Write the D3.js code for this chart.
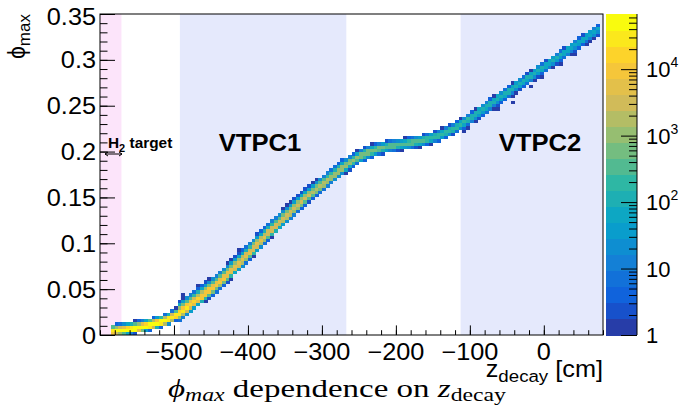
<!DOCTYPE html>
<html><head><meta charset="utf-8">
<script src="https://cdn.jsdelivr.net/npm/d3@7"></script>
<style>body{margin:0;background:#fff}svg{display:block}</style>
</head><body>
<svg id="chart" width="679" height="407"></svg>
<script>
// ---------------- data ----------------
const xDomain = [-600, 80];
const yDomain = [0, 0.35];
const zLogMax = 4.83;            // colour axis top = 10^4.83
const nLevels = 20;
const firstBinZ = -585, binWidthZ = 5, binWidthPhi = 0.0035;

// centre of the phi_max band for every 5 cm z bin (from -585 to 75)
const phiCenter = [
0.0040,0.0045,0.0050,0.0055,0.0061,0.0066,0.0071,0.0079,0.0088,0.0097,
0.0106,0.0116,0.0128,0.0141,0.0154,0.0170,0.0190,0.0212,0.0237,0.0270,
0.0301,0.0332,0.0363,0.0394,0.0425,0.0456,0.0487,0.0518,0.0549,0.0584,
0.0623,0.0662,0.0701,0.0740,0.0780,0.0820,0.0860,0.0902,0.0945,0.0988,
0.1030,0.1070,0.1110,0.1150,0.1190,0.1229,0.1266,0.1304,0.1341,0.1379,
0.1416,0.1454,0.1491,0.1526,0.1558,0.1590,0.1622,0.1654,0.1687,0.1720,
0.1753,0.1787,0.1820,0.1853,0.1881,0.1909,0.1937,0.1957,0.1976,0.1993,
0.2009,0.2022,0.2032,0.2042,0.2053,0.2063,0.2069,0.2075,0.2080,0.2086,
0.2092,0.2100,0.2108,0.2117,0.2125,0.2137,0.2149,0.2161,0.2174,0.2190,
0.2210,0.2230,0.2250,0.2268,0.2297,0.2326,0.2355,0.2384,0.2412,0.2440,
0.2468,0.2496,0.2524,0.2552,0.2580,0.2608,0.2636,0.2664,0.2692,0.2720,
0.2748,0.2776,0.2804,0.2832,0.2860,0.2888,0.2916,0.2944,0.2972,0.3000,
0.3028,0.3056,0.3084,0.3112,0.3140,0.3168,0.3196,0.3224,0.3252,0.3280,
0.3308,0.3336];

// log10 of the peak cell content in every z bin
const logPeak = [
4.50,4.70,4.75,4.75,4.75,4.75,4.75,4.75,4.75,4.75,
4.72,4.70,4.68,4.65,4.62,4.58,4.54,4.50,4.45,4.40,
4.35,4.30,4.25,4.20,4.15,4.10,4.07,4.04,4.01,3.98,
3.95,3.92,3.89,3.86,3.83,3.80,3.78,3.76,3.74,3.72,
3.70,3.68,3.66,3.64,3.62,3.60,3.58,3.56,3.54,3.52,
3.50,3.47,3.44,3.41,3.38,3.35,3.31,3.27,3.23,3.19,
3.15,3.11,3.07,3.03,2.99,2.95,2.91,2.87,2.83,2.79,
2.75,2.72,2.69,2.66,2.63,2.61,2.59,2.57,2.55,2.53,
2.51,2.49,2.47,2.46,2.44,2.43,2.41,2.40,2.38,2.37,
2.35,2.33,2.31,2.29,2.27,2.25,2.23,2.21,2.19,2.17,
2.15,2.14,2.13,2.12,2.11,2.10,2.09,2.08,2.07,2.06,
2.05,2.04,2.03,2.02,2.01,2.00,1.99,1.98,1.97,1.96,
1.95,1.94,1.93,1.92,1.91,1.90,1.89,1.88,1.86,1.84,
1.80,1.70];

// band shape per detector region (decades lost per unit of phi above / below the band centre)
const regionEdgesZ = [-600, -495, -270, -110, 80];
const rateUp   = [700, 380, 480, 600];
const rateDown = [1200, 600, 480, 320];
const coreHalfWidth = 0.0018;

// isolated single-count cells [z, phi]
const outliers = [
[-487,0.0436],[-466,0.0545],[-455,0.0618],[-414,0.0934],[-360,0.1319],[-309,0.1654],
[-245,0.2053],[-212,0.2126],[-212,0.2010],[-106,0.2217],[-104,0.2254],[-65,0.2472],
[-45,0.2544],[-16,0.2726],[-2,0.2835],[22,0.2963],[40,0.3070],[58,0.3180]];

// shaded detector regions [zmin, zmax]
const targetBand = [-600, -571];
const vtpc1Band = [-492, -267];
const vtpc2Band = [-112.5, 80];

const xTickValues = [-500, -400, -300, -200, -100, 0];
const yTickValues = [0, 0.05, 0.1, 0.15, 0.2, 0.25, 0.3, 0.35];
const yTickLabels = ["0", "0.05", "0.1", "0.15", "0.2", "0.25", "0.3", "0.35"];
const zTickValues = [1, 10, 100, 1000, 10000];
const zTickBase = ["1", "10", "10", "10", "10"];
const zTickExp = ["", "", "2", "3", "4"];

// ROOT kBird palette
const birdStops = [0.0000, 0.1250, 0.2500, 0.3750, 0.5000, 0.6250, 0.7500, 0.8750, 1.0000];
const birdR = [0.2082, 0.0592, 0.0780, 0.0232, 0.1802, 0.5301, 0.8186, 0.9956, 0.9764];
const birdG = [0.1664, 0.3599, 0.5041, 0.6419, 0.7178, 0.7492, 0.7328, 0.7862, 0.9832];
const birdB = [0.5293, 0.8684, 0.8385, 0.7914, 0.6425, 0.4662, 0.3499, 0.1968, 0.0539];

// ---------------- drawing ----------------
const svg = d3.select("#chart");
const frame = {l: 100, t: 14, r: 603, b: 335};
const pal = {l: 606, r: 637};
const x = d3.scaleLinear().domain(xDomain).range([frame.l, frame.r]);
const y = d3.scaleLinear().domain(yDomain).range([frame.b, frame.t]);
const zs = d3.scaleLog().domain([1, Math.pow(10, zLogMax)]).range([frame.b, frame.t]);

const rC = d3.scaleLinear().domain(birdStops).range(birdR);
const gC = d3.scaleLinear().domain(birdStops).range(birdG);
const bC = d3.scaleLinear().domain(birdStops).range(birdB);
function bird(f) { return d3.rgb(rC(f) * 255, gC(f) * 255, bC(f) * 255).toString(); }
function levelColor(i) {
  const idx = Math.floor((i + 0.99) * 255 / nLevels);
  return bird(Math.min(idx, 254) / 254);
}
function levelOf(count) {
  const lv = Math.floor(Math.log10(count) / (zLogMax / nLevels));
  return Math.max(0, Math.min(nLevels - 1, lv));
}

svg.append("defs").append("clipPath").attr("id", "clipFrame")
  .append("rect").attr("x", frame.l).attr("y", frame.t)
  .attr("width", frame.r - frame.l).attr("height", frame.b - frame.t);

const plot = svg.append("g").attr("clip-path", "url(#clipFrame)");
function band(r, col) {
  plot.append("rect").attr("x", x(r[0])).attr("y", frame.t)
    .attr("width", x(r[1]) - x(r[0])).attr("height", frame.b - frame.t).attr("fill", col);
}
band(targetBand, "#fce4fa");
band(vtpc1Band, "#e5e9fc");
band(vtpc2Band, "#e5e9fc");

// build cells
function regionOf(z) {
  for (let k = 0; k < regionEdgesZ.length - 1; k++) if (z < regionEdgesZ[k + 1]) return k;
  return regionEdgesZ.length - 2;
}
const cellMap = new Map();
const n = phiCenter.length;
phiCenter.forEach((pc, i) => {
  const prev = i > 0 ? phiCenter[i - 1] : 2 * pc - phiCenter[i + 1];
  const next = i < n - 1 ? phiCenter[i + 1] : 2 * pc - phiCenter[i - 1];
  const pL = (prev + pc) / 2, pR = (pc + next) / 2;
  const z0 = firstBinZ + i * binWidthZ;
  const reg = regionOf(z0 + binWidthZ / 2);
  const rMin = Math.max(0, Math.floor((Math.min(pL, pR) - 0.02) / binWidthPhi));
  const rMax = Math.ceil((Math.max(pL, pR) + 0.02) / binWidthPhi);
  for (let r = rMin; r <= rMax; r++) {
    const rowC = (r + 0.5) * binWidthPhi;
    let sum = 0;
    const S = 10;
    for (let s = 0; s < S; s++) {
      const ps = pL + (pR - pL) * (s + 0.5) / S;
      const d = rowC - ps;
      const ad = Math.max(0, Math.abs(d) - coreHalfWidth);
      const lg = logPeak[i] - (d > 0 ? ad * rateUp[reg] : ad * rateDown[reg]);
      sum += Math.pow(10, lg);
    }
    const cnt = sum / S;
    if (cnt >= 1) cellMap.set(i + "," + r, {i, r, cnt});
  }
});
outliers.forEach(([z, p]) => {
  const i = Math.floor((z - firstBinZ) / binWidthZ);
  const r = Math.floor(p / binWidthPhi);
  const key = i + "," + r;
  if (!cellMap.has(key)) cellMap.set(key, {i, r, cnt: 1});
});
const cells = Array.from(cellMap.values());
plot.append("g").attr("shape-rendering", "crispEdges")
  .selectAll("rect").data(cells).join("rect")
  .attr("x", d => x(firstBinZ + d.i * binWidthZ))
  .attr("width", d => x(firstBinZ + (d.i + 1) * binWidthZ) - x(firstBinZ + d.i * binWidthZ) + 0.3)
  .attr("y", d => y((d.r + 1) * binWidthPhi))
  .attr("height", d => y(d.r * binWidthPhi) - y((d.r + 1) * binWidthPhi) + 0.3)
  .attr("fill", d => levelColor(levelOf(d.cnt)));

// frame
svg.append("rect").attr("x", frame.l).attr("y", frame.t)
  .attr("width", frame.r - frame.l).attr("height", frame.b - frame.t)
  .attr("fill", "none").attr("stroke", "#000").attr("stroke-width", 1);

// axes (ticks inside the frame)
function ticksOnly(g) { g.select(".domain").remove(); g.selectAll("text").remove(); g.selectAll("line").attr("stroke", "#000"); }
svg.append("g").attr("transform", `translate(0,${frame.b})`)
  .call(d3.axisBottom(x).tickValues(d3.range(-600, 81, 20)).tickSize(-4.8).tickFormat(""))
  .call(ticksOnly);
svg.append("g").attr("transform", `translate(0,${frame.b})`)
  .call(d3.axisBottom(x).tickValues(xTickValues).tickSize(-9.6).tickFormat(""))
  .call(ticksOnly);
svg.append("g").attr("transform", `translate(${frame.l},0)`)
  .call(d3.axisLeft(y).tickValues(d3.range(0, 36).map(k => k / 100)).tickSize(-7.5).tickFormat(""))
  .call(ticksOnly);
svg.append("g").attr("transform", `translate(${frame.l},0)`)
  .call(d3.axisLeft(y).tickValues(yTickValues).tickSize(-15).tickFormat(""))
  .call(ticksOnly);

const SX = 1.1;
function stretched(px, py, anchor, opts) {
  const g = svg.append("g").attr("transform", `translate(${px},${py}) scale(${opts.sx || SX},1)`);
  return g.append("text").attr("text-anchor", anchor)
    .attr("font-family", opts.family || "'Liberation Sans', Arial, sans-serif")
    .attr("font-size", opts.size || 23).attr("font-weight", opts.weight || "normal")
    .attr("fill", "#000");
}
// tick labels
xTickValues.forEach(v => {
  stretched(x(v), 360, "middle", {}).text(v < 0 ? "\u2212" + Math.abs(v) : String(v));
});
yTickValues.forEach((v, k) => {
  stretched(96, y(v) + 8.5 + (k === yTickValues.length - 1 ? 2 : 0), "end", {}).text(yTickLabels[k]);
});

// palette
const palG = svg.append("g").attr("shape-rendering", "crispEdges");
d3.range(nLevels).forEach(i => {
  const lo = zs(Math.pow(10, i * zLogMax / nLevels));
  const hi = zs(Math.pow(10, (i + 1) * zLogMax / nLevels));
  palG.append("rect").attr("x", pal.l).attr("y", hi).attr("width", pal.r - pal.l)
    .attr("height", lo - hi + 0.5).attr("fill", levelColor(i));
});
const minorZ = [];
for (let e = 0; e < 5; e++) for (let m = 2; m <= 9; m++) { const v = m * Math.pow(10, e); if (v < Math.pow(10, zLogMax)) minorZ.push(v); }
svg.append("g").attr("transform", `translate(${pal.r},0)`)
  .call(d3.axisRight(zs).tickValues(minorZ).tickSize(-8).tickFormat(""))
  .call(ticksOnly);
svg.append("g").attr("transform", `translate(${pal.r},0)`)
  .call(d3.axisRight(zs).tickValues(zTickValues).tickSize(-16).tickFormat(""))
  .call(ticksOnly);
svg.append("line").attr("x1", pal.r).attr("x2", pal.r).attr("y1", frame.t).attr("y2", frame.b)
  .attr("stroke", "#000");
zTickValues.forEach((v, k) => {
  const t = stretched(646, zs(v) + 8, "start", {size: 22, sx: 1.0});
  t.append("tspan").text(zTickBase[k]);
  if (zTickExp[k]) t.append("tspan").attr("font-size", 14).attr("dy", -10).text(zTickExp[k]);
});

// axis titles
{
  const g = svg.append("g").attr("transform", `translate(25,${frame.t}) rotate(-90)`);
  const t = g.append("text").attr("text-anchor", "end")
    .attr("font-family", "'Liberation Sans', Arial, sans-serif").attr("font-size", 23);
  t.append("tspan").text("\u03D5");
  t.append("tspan").attr("font-size", 17).attr("dy", 5).text("max");
}
{
  const t = stretched(frame.r, 377, "end", {});
  t.append("tspan").text("z");
  t.append("tspan").attr("font-size", 17).attr("dy", 5).text("decay");
  t.append("tspan").attr("dy", -5).text(" [cm]");
}
// caption (stretched to its width in the picture)
{
  const capLeft = 168, capWidth = 338;
  const g = svg.append("g");
  const t = g.append("text").attr("text-anchor", "start")
    .attr("font-family", "'Liberation Serif', 'Times New Roman', serif").attr("font-size", 25).attr("fill", "#000");
  t.append("tspan").attr("font-style", "italic").text("\u03D5");
  t.append("tspan").attr("font-style", "italic").attr("font-size", 18).attr("dy", 4).text("max");
  t.append("tspan").attr("dy", -4).text(" dependence on ");
  t.append("tspan").attr("font-style", "italic").text("z");
  t.append("tspan").attr("font-size", 18).attr("dy", 4).text("decay");
  const w = t.node().getComputedTextLength();
  g.attr("transform", `translate(${capLeft},397) scale(${capWidth / w},1)`);
}
// detector labels
stretched(260, 151, "middle", {size: 24, weight: "bold", sx: 1.07}).text("VTPC1");
stretched(540, 151, "middle", {size: 24, weight: "bold", sx: 1.07}).text("VTPC2");
{
  const t = stretched(108, 148, "start", {size: 14, weight: "bold"});
  t.append("tspan").text("H");
  t.append("tspan").attr("font-size", 10).attr("dy", 4).text("2");
  t.append("tspan").attr("dy", -4).text(" target");
  const ay = 154;
  svg.append("line").attr("x1", 105).attr("x2", 122).attr("y1", ay).attr("y2", ay).attr("stroke", "#000").attr("stroke-width", 1);
  svg.append("path").attr("d", `M105,${ay} l3,-2 M105,${ay} l3,2 M122,${ay} l-3,-2 M122,${ay} l-3,2`)
    .attr("stroke", "#000").attr("stroke-width", 1).attr("fill", "none");
}
</script>
</body></html>
